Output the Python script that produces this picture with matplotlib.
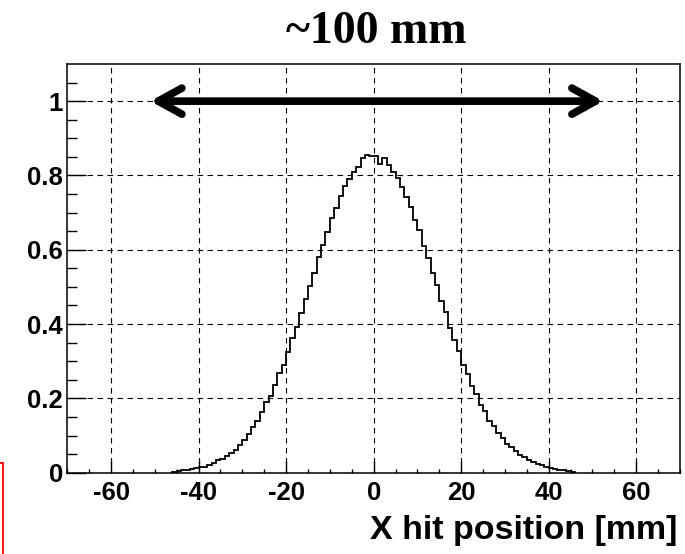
import numpy as np
import matplotlib
matplotlib.use("Agg")
import matplotlib.pyplot as plt
from matplotlib.patches import FancyArrowPatch, Rectangle

# hit distribution, 1 mm bins from -46 mm to +46 mm
bin_lo = -46.0
bin_width = 1.0
hits_left = [0.003, 0.004, 0.006, 0.008, 0.010, 0.012, 0.014, 0.016, 0.021, 0.025,
             0.033, 0.038, 0.046, 0.052, 0.060, 0.074, 0.089, 0.104, 0.124, 0.138,
             0.162, 0.190, 0.207, 0.236, 0.268, 0.291, 0.325, 0.362, 0.392, 0.430,
             0.468, 0.502, 0.537, 0.580, 0.612, 0.648, 0.685, 0.712, 0.744, 0.772,
             0.790, 0.808, 0.824, 0.848, 0.856, 0.853]
hits_right = [0.853, 0.832, 0.846, 0.828, 0.810, 0.793, 0.770, 0.742, 0.716, 0.680,
              0.652, 0.610, 0.578, 0.538, 0.505, 0.462, 0.433, 0.390, 0.358, 0.328,
              0.290, 0.266, 0.232, 0.212, 0.183, 0.165, 0.140, 0.126, 0.106, 0.094,
              0.078, 0.068, 0.058, 0.048, 0.042, 0.033, 0.029, 0.023, 0.020, 0.015,
              0.013, 0.010, 0.008, 0.006, 0.004, 0.003]

x_ticks = [-60, -40, -20, 0, 20, 40, 60]
y_ticks = [0, 0.2, 0.4, 0.6, 0.8, 1.0]
y_tick_labels = ["0", "0.2", "0.4", "0.6", "0.8", "1"]

# span marker drawn across the top of the plot
span_from, span_to, span_level = -51.0, 52.5, 1.0
span_text = "~100 mm"

counts = np.array(hits_left + hits_right)
edges = bin_lo + bin_width * np.arange(len(counts) + 1)

sans = ["Liberation Sans", "DejaVu Sans"]
plt.rcParams["axes.unicode_minus"] = False

fig = plt.figure(figsize=(6.85, 5.54), dpi=100)
ax = fig.add_axes([0.0982, 0.1468, 0.8945, 0.7377])

ax.stairs(counts, edges, baseline=0, color="black", lw=1.3, zorder=3)

ax.set_xlim(-70, 70)
ax.set_ylim(0, 1.1)
ax.set_xticks(x_ticks)
ax.set_xticks(np.arange(-70, 71, 5), minor=True)
ax.set_yticks(y_ticks)
ax.set_yticklabels(y_tick_labels)
ax.set_yticks(np.arange(0, 1.1, 0.05), minor=True)

ax.grid(True, which="major", color="black", lw=0.8, linestyle=(0, (5, 4)), zorder=1)

ax.tick_params(which="both", direction="in", width=1.0, top=False, right=False)
ax.tick_params(axis="y", which="major", length=13.5, pad=3)
ax.tick_params(axis="y", which="minor", length=7)
ax.tick_params(axis="x", which="major", length=8.5, pad=6)
ax.tick_params(axis="x", which="minor", length=3.2)
for lab in ax.get_xticklabels() + ax.get_yticklabels():
    lab.set_family(sans)
    lab.set_fontweight("bold")
    lab.set_fontsize(18.5)

for sp in ax.spines.values():
    sp.set_linewidth(1.1)

ax.set_xlabel("X hit position [mm]", family=sans, fontweight="bold", fontsize=24.5)
ax.xaxis.set_label_coords(0.995, -0.103)
ax.xaxis.label.set_horizontalalignment("right")

arrow = FancyArrowPatch((span_from, span_level), (span_to, span_level),
                        arrowstyle="<->,head_length=17,head_width=9.4",
                        mutation_scale=1, lw=5.5, color="black",
                        shrinkA=0, shrinkB=0, capstyle="round",
                        joinstyle="round", zorder=4)
ax.add_patch(arrow)

fig.text(0.5496, 0.9218, span_text, ha="center", va="baseline",
         family=["Liberation Serif", "DejaVu Serif"], fontweight="bold", fontsize=33)

# partly visible red frame at the lower left edge
fig.add_artist(Rectangle((-0.02, -0.05), 0.0251, 0.2143, transform=fig.transFigure,
                         fill=False, edgecolor="red", lw=1.3, clip_on=False))

fig.savefig("out.png", dpi=100)
